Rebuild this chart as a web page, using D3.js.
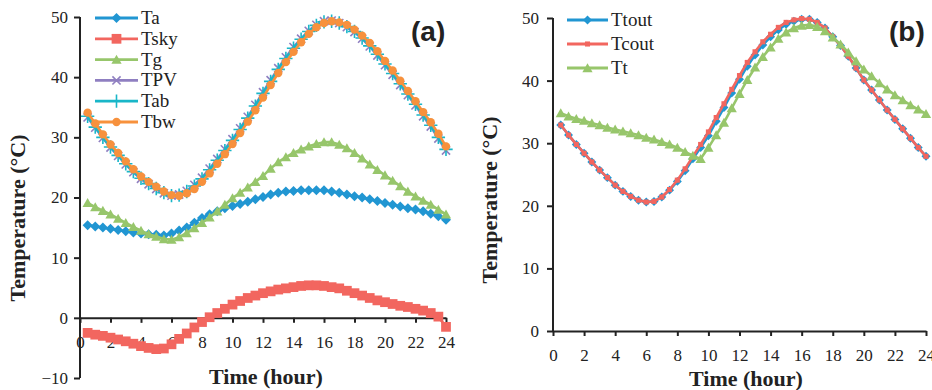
<!DOCTYPE html>
<html>
<head>
<meta charset="utf-8">
<script src="https://cdn.jsdelivr.net/npm/d3@7"></script>
<style>
  html, body { margin: 0; padding: 0; background: #fff; }
  svg { display: block; }
  .axis path, .axis line { stroke: #222; stroke-width: 2px; }
</style>
</head>
<body>
<svg id="chart" width="932" height="390"></svg>
<script>
// Time of day (hour), one sample every half hour
const hours = [0.5,1,1.5,2,2.5,3,3.5,4,4.5,5,5.5,6,6.5,7,7.5,8,8.5,9,9.5,10,10.5,11,11.5,12,
               12.5,13,13.5,14,14.5,15,15.5,16,16.5,17,17.5,18,18.5,19,19.5,20,20.5,21,21.5,22,22.5,23,23.5,24];

// Panel (a) temperatures (°C)
const Ta   = [15.4,15.2,15.0,14.8,14.6,14.4,14.2,14.0,13.9,13.8,13.7,14.0,14.5,15.0,15.8,16.6,17.2,17.7,18.2,18.6,18.9,19.3,19.7,20.1,
              20.5,20.8,21.0,21.1,21.2,21.2,21.2,21.2,21.0,20.8,20.5,20.2,20.0,19.7,19.4,19.1,18.8,18.5,18.2,18.0,17.7,17.3,16.9,16.3];
const Tsky = [-2.5,-2.8,-3.0,-3.3,-3.6,-3.9,-4.3,-4.7,-5.0,-5.2,-5.1,-4.4,-3.5,-2.6,-1.6,-0.7,0.1,0.8,1.5,2.2,2.8,3.3,3.7,4.1,
              4.4,4.7,4.9,5.1,5.3,5.4,5.4,5.3,5.1,4.9,4.5,4.1,3.7,3.3,2.9,2.6,2.3,2.0,1.8,1.5,1.2,0.8,0.2,-1.5];
const Tg   = [19.1,18.4,17.8,17.2,16.5,15.8,15.1,14.5,13.9,13.5,13.1,13.0,13.4,14.1,14.9,15.8,16.7,17.7,18.8,19.9,20.8,21.7,22.6,23.6,
              24.8,25.9,26.7,27.4,28.0,28.5,28.9,29.2,29.2,28.8,28.2,27.4,26.5,25.5,24.6,23.7,22.8,21.9,21.0,20.2,19.5,18.8,18.0,17.2];
const TPV  = [33.3,31.6,29.9,28.3,26.9,25.5,24.2,23.1,22.2,21.4,20.7,20.3,20.5,21.1,22.1,23.3,24.8,26.4,28.0,29.7,31.5,33.4,35.4,37.5,
              39.5,41.5,43.3,45.0,46.4,47.7,48.7,49.3,49.4,49.0,48.3,47.5,46.4,45.1,43.6,42.0,40.4,38.7,37.0,35.3,33.5,31.8,29.8,27.8];
const Tab  = [33.5,31.7,30.0,28.4,27.0,25.6,24.3,23.2,22.3,21.5,20.8,20.3,20.4,21.0,21.9,23.1,24.6,26.2,27.8,29.5,31.3,33.2,35.2,37.3,
              39.3,41.3,43.1,44.8,46.3,47.6,48.6,49.2,49.3,49.0,48.4,47.6,46.5,45.2,43.8,42.2,40.6,38.9,37.2,35.5,33.7,32.0,30.0,28.0];
const Tbw  = [34.1,32.3,30.5,28.8,27.4,26.0,24.7,23.5,22.6,21.8,21.0,20.4,20.3,20.7,21.4,22.6,24.0,25.6,27.2,28.9,30.7,32.6,34.5,36.6,
              38.7,40.7,42.5,44.2,45.8,47.2,48.3,49.0,49.3,49.1,48.7,47.9,46.9,45.7,44.3,42.7,41.1,39.4,37.7,36.0,34.2,32.5,30.6,28.5];

// Panel (b) temperatures (°C)
const Ttout = [32.9,31.3,29.8,28.4,27.0,25.7,24.5,23.3,22.3,21.5,20.9,20.6,20.7,21.4,22.5,23.9,25.6,27.5,29.3,31.2,33.5,35.7,38.0,40.2,
               42.3,44.1,45.7,47.0,48.1,49.0,49.5,49.8,49.8,49.3,48.4,47.0,45.6,43.9,42.0,40.1,38.5,36.9,35.3,33.8,32.3,30.8,29.3,27.9];
const Tcout = [32.9,31.3,29.8,28.4,27.0,25.7,24.5,23.3,22.3,21.5,20.9,20.6,20.7,21.4,22.6,24.1,25.9,27.9,29.8,31.8,34.1,36.3,38.6,40.8,
               42.9,44.6,46.2,47.4,48.5,49.3,49.7,49.9,49.8,49.3,48.4,47.0,45.6,43.9,42.0,40.1,38.5,36.9,35.3,33.8,32.3,30.8,29.3,27.9];
const Tt    = [34.8,34.3,33.9,33.6,33.2,32.9,32.5,32.2,31.9,31.6,31.3,30.9,30.6,30.2,29.8,29.3,28.6,28.0,27.5,29.3,31.3,33.3,35.6,37.9,
               40.1,42.1,43.8,45.3,46.7,47.7,48.4,48.8,48.9,48.6,47.9,46.9,45.8,44.5,43.1,41.8,40.7,39.6,38.6,37.7,36.9,36.1,35.4,34.7];

// Axis tick values
const xTicks = [0,2,4,6,8,10,12,14,16,18,20,22,24];
const yTicksA = [-10,0,10,20,30,40,50];
const yTicksB = [0,10,20,30,40,50];

// Square-diamond marker (equal width and height)
const symbolRhomb = {
  draw(ctx, size) {
    const r = Math.sqrt(size) / 2;
    ctx.moveTo(0, -r); ctx.lineTo(r, 0); ctx.lineTo(0, r); ctx.lineTo(-r, 0); ctx.closePath();
  }
};
// Triangle marker
const symbolTri = {
  draw(ctx, size) {
    const w = Math.sqrt(size) / 2;
    ctx.moveTo(0, -w * 1.0); ctx.lineTo(w * 1.05, w * 0.85); ctx.lineTo(-w * 1.05, w * 0.85); ctx.closePath();
  }
};

const seriesA = [
  { name: "Ta",   values: Ta,   color: "#2196d2", type: symbolRhomb,      size: 100, stroke: false },
  { name: "Tsky", values: Tsky, color: "#f2665f", type: d3.symbolSquare,  size: 95,  stroke: false },
  { name: "Tg",   values: Tg,   color: "#97c66b", type: symbolTri,        size: 95,  stroke: false },
  { name: "TPV",  values: TPV,  color: "#8f7fc1", type: d3.symbolTimes,   size: 45,  stroke: true },
  { name: "Tab",  values: Tab,  color: "#19b6c8", type: d3.symbolPlus,    size: 60,  stroke: true },
  { name: "Tbw",  values: Tbw,  color: "#f7913d", type: d3.symbolCircle,  size: 55,  stroke: false }
];
const seriesB = [
  { name: "Ttout", values: Ttout, color: "#2196d2", type: symbolRhomb,     size: 80, stroke: false },
  { name: "Tcout", values: Tcout, color: "#f2665f", type: d3.symbolSquare, size: 26, stroke: false },
  { name: "Tt",    values: Tt,    color: "#97c66b", type: symbolTri,       size: 95, stroke: false }
];

const svg = d3.select("#chart");
const serif = '"Liberation Serif", "DejaVu Serif", serif';

function styleTicks(sel) {
  sel.selectAll(".tick text")
    .attr("font-family", serif).attr("font-size", 17).attr("fill", "#222");
}

function drawPanel(cfg) {
  const x = d3.scaleLinear().domain([0, 24]).range(cfg.xRange);
  const y = d3.scaleLinear().domain(cfg.yDomain).range(cfg.yRange);
  const g = svg.append("g");

  // y axis
  const ya = g.append("g").attr("class", "axis")
    .attr("transform", `translate(${cfg.xRange[0]},0)`)
    .call(d3.axisLeft(y).tickValues(cfg.yTicks).tickSize(6).tickPadding(cfg.yPad).tickSizeOuter(0));
  ya.select(".domain").attr("d", `M0,${cfg.yRange[0]}V${cfg.yRange[1]}`);
  styleTicks(ya);

  // x axis drawn along T = 0
  const xa = g.append("g").attr("class", "axis")
    .attr("transform", `translate(0,${y(0)})`)
    .call(d3.axisBottom(x).tickValues(xTicks).tickSize(5).tickPadding(13).tickSizeOuter(0));
  xa.selectAll(".tick text").attr("dy", "0.71em");
  styleTicks(xa);

  // series lines and markers
  const line = d3.line().x((d, i) => x(hours[i])).y(d => y(d));
  cfg.series.forEach(s => {
    g.append("path").datum(s.values)
      .attr("d", line).attr("fill", "none")
      .attr("stroke", s.color).attr("stroke-width", 2.6).attr("stroke-linejoin", "round");
    const sym = d3.symbol().type(s.type).size(s.size);
    g.append("g").selectAll("path").data(s.values).join("path")
      .attr("transform", (d, i) => `translate(${x(hours[i])},${y(d)})`)
      .attr("d", sym())
      .attr("fill", s.stroke ? "none" : s.color)
      .attr("stroke", s.stroke ? s.color : "none")
      .attr("stroke-width", s.stroke ? 1.6 : 0);
  });

  // legend
  const lg = g.append("g");
  cfg.series.forEach((s, i) => {
    const ly = cfg.legendY + i * cfg.legendStep;
    lg.append("line").attr("x1", cfg.legendX).attr("x2", cfg.legendX + cfg.legendLen)
      .attr("y1", ly).attr("y2", ly).attr("stroke", s.color).attr("stroke-width", 2.8);
    lg.append("path").attr("transform", `translate(${cfg.legendX + cfg.legendLen / 2},${ly})`)
      .attr("d", d3.symbol().type(s.type).size(s.size)())
      .attr("fill", s.stroke ? "none" : s.color)
      .attr("stroke", s.stroke ? s.color : "none")
      .attr("stroke-width", s.stroke ? 1.6 : 0);
    lg.append("text").attr("x", cfg.legendX + cfg.legendLen + 3).attr("y", ly + 6)
      .attr("font-family", serif).attr("font-size", 19).attr("fill", "#222").text(s.name);
  });

  // axis titles
  g.append("text").attr("x", cfg.xTitleX).attr("y", cfg.xTitleY).attr("text-anchor", "middle")
    .attr("font-family", serif).attr("font-weight", "bold").attr("font-size", 22).attr("fill", "#222")
    .text("Time (hour)");
  g.append("text").attr("transform", `translate(${cfg.yTitleX},${cfg.yTitleY}) rotate(-90)`)
    .attr("text-anchor", "middle")
    .attr("font-family", serif).attr("font-weight", "bold").attr("font-size", 22).attr("fill", "#222")
    .text("Temperature (°C)");

  // panel tag
  g.append("text").attr("x", cfg.tagX).attr("y", 41)
    .attr("font-family", '"Liberation Sans", Arial, sans-serif').attr("font-weight", "bold")
    .attr("font-size", 28).attr("fill", "#222").text(cfg.tag);
}

drawPanel({
  series: seriesA, xRange: [80, 446], yDomain: [-10, 50], yRange: [378, 17],
  yTicks: yTicksA, yPad: 6,
  legendX: 95, legendY: 18, legendStep: 20.8, legendLen: 43,
  xTitleX: 266, xTitleY: 384, yTitleX: 25, yTitleY: 218,
  tag: "(a)", tagX: 411
});
drawPanel({
  series: seriesB, xRange: [553, 926], yDomain: [0, 50], yRange: [331, 18],
  yTicks: yTicksB, yPad: 8,
  legendX: 567, legendY: 20, legendStep: 24, legendLen: 41,
  xTitleX: 746, xTitleY: 386, yTitleX: 497, yTitleY: 200,
  tag: "(b)", tagX: 889
});
</script>
</body>
</html>
